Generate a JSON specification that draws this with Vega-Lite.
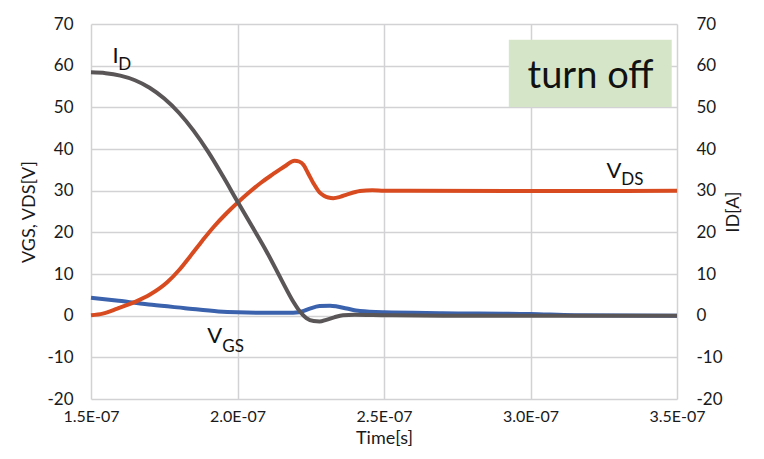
{
  "$schema": "https://vega.github.io/schema/vega-lite/v6.json",
  "width": 586,
  "height": 375,
  "autosize": {"type": "none"},
  "padding": {"left": 91, "top": 24, "right": 87, "bottom": 60},
  "background": "white",
  "config": {
    "view": {"stroke": null},
    "font": "Lato",
    "axis": {
      "labelFont": "Lato",
      "titleFont": "Lato",
      "labelFontSize": 17,
      "titleFontSize": 18,
      "titleFontWeight": "normal",
      "labelColor": "#1a1a1a",
      "titleColor": "#1a1a1a",
      "domain": false,
      "ticks": false,
      "tickSize": 0,
      "labelFlush": false,
      "gridColor": "#d2d2d4",
      "gridWidth": 1.5
    }
  },
  "datasets": {
    "curves": [
      {"series": "VGS", "t": 150, "v": 4.3},
      {"series": "VGS", "t": 159.4, "v": 3.6},
      {"series": "VGS", "t": 170.8, "v": 2.6},
      {"series": "VGS", "t": 182.1, "v": 1.8},
      {"series": "VGS", "t": 193.5, "v": 1.0},
      {"series": "VGS", "t": 200, "v": 0.8},
      {"series": "VGS", "t": 210, "v": 0.7},
      {"series": "VGS", "t": 218, "v": 0.7},
      {"series": "VGS", "t": 220, "v": 0.75},
      {"series": "VGS", "t": 222, "v": 1.0},
      {"series": "VGS", "t": 224.7, "v": 1.7},
      {"series": "VGS", "t": 228, "v": 2.3},
      {"series": "VGS", "t": 231.6, "v": 2.4},
      {"series": "VGS", "t": 234, "v": 2.2},
      {"series": "VGS", "t": 237.3, "v": 1.7},
      {"series": "VGS", "t": 241.8, "v": 1.1},
      {"series": "VGS", "t": 250, "v": 0.8},
      {"series": "VGS", "t": 270, "v": 0.6},
      {"series": "VGS", "t": 300, "v": 0.4},
      {"series": "VGS", "t": 315, "v": 0.1},
      {"series": "VGS", "t": 350, "v": 0.0},

      {"series": "VDS", "t": 150, "v": 0.1},
      {"series": "VDS", "t": 154, "v": 0.5},
      {"series": "VDS", "t": 159, "v": 1.7},
      {"series": "VDS", "t": 165, "v": 3.3},
      {"series": "VDS", "t": 170, "v": 5.0},
      {"series": "VDS", "t": 176, "v": 8.0},
      {"series": "VDS", "t": 180, "v": 10.9},
      {"series": "VDS", "t": 184, "v": 14.4},
      {"series": "VDS", "t": 188, "v": 18.0},
      {"series": "VDS", "t": 192, "v": 21.4},
      {"series": "VDS", "t": 196, "v": 24.4},
      {"series": "VDS", "t": 200, "v": 27.1},
      {"series": "VDS", "t": 204, "v": 29.6},
      {"series": "VDS", "t": 208, "v": 31.9},
      {"series": "VDS", "t": 212, "v": 33.9},
      {"series": "VDS", "t": 216, "v": 35.8},
      {"series": "VDS", "t": 219.5, "v": 37.2},
      {"series": "VDS", "t": 221, "v": 37.0},
      {"series": "VDS", "t": 222.5, "v": 36.2},
      {"series": "VDS", "t": 224, "v": 34.3},
      {"series": "VDS", "t": 225.9, "v": 31.8},
      {"series": "VDS", "t": 228, "v": 29.6},
      {"series": "VDS", "t": 229.5, "v": 28.8},
      {"series": "VDS", "t": 231, "v": 28.35},
      {"series": "VDS", "t": 232.7, "v": 28.2},
      {"series": "VDS", "t": 235, "v": 28.5},
      {"series": "VDS", "t": 237.5, "v": 29.1},
      {"series": "VDS", "t": 241.8, "v": 29.9},
      {"series": "VDS", "t": 246, "v": 30.1},
      {"series": "VDS", "t": 250, "v": 30.0},
      {"series": "VDS", "t": 300, "v": 29.9},
      {"series": "VDS", "t": 350, "v": 30.0},

      {"series": "ID", "t": 150, "v": 58.4},
      {"series": "ID", "t": 155, "v": 58.2},
      {"series": "ID", "t": 160, "v": 57.6},
      {"series": "ID", "t": 165, "v": 56.5},
      {"series": "ID", "t": 170, "v": 54.7},
      {"series": "ID", "t": 175, "v": 52.1},
      {"series": "ID", "t": 180, "v": 48.7},
      {"series": "ID", "t": 185, "v": 44.4},
      {"series": "ID", "t": 190, "v": 39.3},
      {"series": "ID", "t": 195, "v": 33.5},
      {"series": "ID", "t": 200, "v": 27.4},
      {"series": "ID", "t": 205, "v": 21.4},
      {"series": "ID", "t": 210, "v": 15.3},
      {"series": "ID", "t": 215, "v": 8.6},
      {"series": "ID", "t": 219, "v": 3.4},
      {"series": "ID", "t": 221.5, "v": 0.8},
      {"series": "ID", "t": 223.5, "v": -0.6},
      {"series": "ID", "t": 226, "v": -1.3},
      {"series": "ID", "t": 228, "v": -1.4},
      {"series": "ID", "t": 230.3, "v": -1.0},
      {"series": "ID", "t": 233, "v": -0.4},
      {"series": "ID", "t": 236, "v": 0.1},
      {"series": "ID", "t": 240, "v": 0.2},
      {"series": "ID", "t": 250, "v": 0.1},
      {"series": "ID", "t": 270, "v": 0.0},
      {"series": "ID", "t": 350, "v": 0.0}
    ],
    "mainLetters": [
      {"text": "I", "t": 157.3, "v": 60.6},
      {"text": "V", "t": 189.7, "v": -6.6},
      {"text": "V", "t": 325.9, "v": 33.0}
    ],
    "subLetters": [
      {"text": "D", "t": 159.3, "v": 59.0},
      {"text": "GS", "t": 194.8, "v": -8.7},
      {"text": "DS", "t": 331.0, "v": 31.4}
    ],
    "box": [
      {"text": "turn off", "t": 292.6, "t2": 348.2, "v": 50.1, "v2": 66.2, "tc": 320.5, "vc": 54.6}
    ]
  },
  "layer": [
    {
      "encoding": {
        "x": {
          "field": "t", "type": "quantitative",
          "scale": {"domain": [150, 350], "nice": false, "zero": false},
          "axis": {
            "values": [150, 200, 250, 300, 350],
            "labelExpr": "format(datum.value / 100, '.1f') + 'E-07'",
            "grid": true,
            "labelFlush": false,
            "labelFontSize": 16,
            "labelPadding": 9,
            "title": "Time[s]",
            "titleFontSize": 18,
            "titlePadding": 5
          }
        },
        "y": {
          "field": "v", "type": "quantitative",
          "scale": {"domain": [-20, 70], "nice": false, "zero": false},
          "axis": {
            "orient": "left",
            "values": [-20, -10, 0, 10, 20, 30, 40, 50, 60, 70],
            "labelExpr": "datum.value < 0 ? '-' + abs(datum.value) : '' + datum.value",
            "grid": true,
            "labelFontSize": 17,
            "labelPadding": 18,
            "title": "VGS, VDS[V]",
            "titleFontSize": 18,
            "titlePadding": 8
          }
        }
      },
      "layer": [
        {
          "data": {"name": "box"},
          "mark": {"type": "rect", "color": "#d5e6c8"},
          "encoding": {"x2": {"field": "t2"}, "y2": {"field": "v2"}}
        },
        {
          "data": {"name": "box"},
          "mark": {"type": "text", "font": "Lato", "fontSize": 38, "color": "#111111", "align": "center", "baseline": "alphabetic"},
          "encoding": {"text": {"field": "text"}, "x": {"field": "tc", "type": "quantitative"}, "y": {"field": "vc", "type": "quantitative"}}
        },
        {
          "data": {"name": "curves"},
          "transform": [{"filter": "datum.series === 'VGS'"}],
          "mark": {"type": "line", "color": "#3b62ad", "strokeWidth": 4, "interpolate": "monotone"}
        },
        {
          "data": {"name": "curves"},
          "transform": [{"filter": "datum.series === 'VDS'"}],
          "mark": {"type": "line", "color": "#d84b20", "strokeWidth": 4, "interpolate": "monotone"}
        },
        {
          "data": {"name": "mainLetters"},
          "mark": {"type": "text", "font": "Lato", "fontSize": 22, "color": "#111111", "align": "left", "baseline": "alphabetic"},
          "encoding": {"text": {"field": "text"}}
        },
        {
          "data": {"name": "subLetters"},
          "mark": {"type": "text", "font": "Lato", "fontSize": 17, "color": "#111111", "align": "left", "baseline": "alphabetic"},
          "encoding": {"text": {"field": "text"}}
        }
      ]
    },
    {
      "data": {"name": "curves"},
      "transform": [{"filter": "datum.series === 'ID'"}],
      "mark": {"type": "line", "color": "#5a5658", "strokeWidth": 4, "interpolate": "monotone"},
      "encoding": {
        "x": {
          "field": "t", "type": "quantitative",
          "scale": {"domain": [150, 350], "nice": false, "zero": false},
          "axis": {
            "values": [150, 200, 250, 300, 350],
            "labelExpr": "format(datum.value / 100, '.1f') + 'E-07'",
            "grid": true,
            "labelFlush": false,
            "labelFontSize": 16,
            "labelPadding": 9,
            "title": "Time[s]",
            "titleFontSize": 18,
            "titlePadding": 5
          }
        },
        "y": {
          "field": "v", "type": "quantitative",
          "scale": {"domain": [-20, 70], "nice": false, "zero": false},
          "axis": {
            "orient": "right",
            "values": [-20, -10, 0, 10, 20, 30, 40, 50, 60, 70],
            "labelExpr": "datum.value < 0 ? '-' + abs(datum.value) : '' + datum.value",
            "grid": false,
            "labelFontSize": 17,
            "labelPadding": 19,
            "title": "ID[A]",
            "titleAngle": 270,
            "titleFontSize": 18,
            "titlePadding": 20
          }
        }
      }
    }
  ],
  "resolve": {"scale": {"y": "independent"}}
}
